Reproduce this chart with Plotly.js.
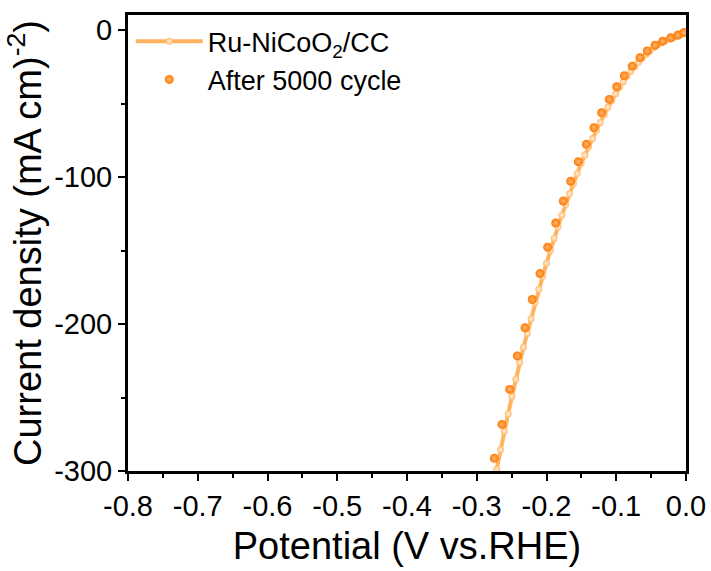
<!DOCTYPE html>
<html>
<head>
<meta charset="utf-8">
<script src="https://cdn.plot.ly/plotly-3.0.1.min.js"></script>
<style>html,body{margin:0;padding:0;background:#fff;}#chart{width:711px;height:571px;}</style>
</head>
<body>
<div id="chart"></div>
<script>
// Ru-NiCoO2/CC (initial LSV) – potential (V vs. RHE)
const freshPotential = [-0.2715, -0.2660, -0.2605, -0.2550, -0.2495, -0.2440, -0.2385, -0.2330, -0.2275, -0.2220,
  -0.2165, -0.2110, -0.2055, -0.2000, -0.1945, -0.1890, -0.1835, -0.1780, -0.1725, -0.1670,
  -0.1615, -0.1560, -0.1505, -0.1450, -0.1395, -0.1340, -0.1285, -0.1230, -0.1175, -0.1120,
  -0.1065, -0.1010, -0.0955, -0.0900, -0.0845, -0.0790, -0.0735, -0.0680, -0.0625, -0.0570,
  -0.0515, -0.0460, -0.0405, -0.0350, -0.0295, -0.0240, -0.0185, -0.0130, -0.0075, -0.0020];
// current density (mA cm-2)
const freshCurrent = [-299.0, -285.5, -272.9, -261.2, -249.3, -237.6, -226.1, -215.8, -206.4, -196.5,
  -185.4, -176.3, -167.6, -158.7, -149.8, -141.6, -133.8, -126.1, -118.5, -111.3,
  -104.4, -97.7, -90.9, -85.1, -79.4, -73.8, -68.2, -62.9, -57.8, -52.6,
  -48.0, -43.6, -39.1, -35.2, -31.1, -28.0, -24.9, -22.0, -18.9, -16.5,
  -14.1, -12.1, -10.1, -8.7, -7.4, -6.3, -5.2, -4.2, -3.2, -1.5];

// After 5000 cycles
const cycledPotential = [-0.2748, -0.2638, -0.2528, -0.2419, -0.2308, -0.2204, -0.2093, -0.1983, -0.1868, -0.1759,
  -0.1653, -0.1544, -0.1429, -0.1319, -0.1209, -0.1100, -0.0994, -0.0885, -0.0770, -0.0659,
  -0.0555, -0.0444, -0.0334, -0.0218, -0.0115, -0.0029];
const cycledCurrent = [-291.4, -268.3, -244.5, -221.7, -202.6, -183.3, -165.7, -147.8, -131.3, -116.3,
  -102.9, -89.6, -77.8, -66.5, -56.3, -47.2, -38.6, -31.1, -24.6, -18.9,
  -14.3, -10.3, -7.6, -5.3, -3.4, -1.7];

const seriesNames = ['Ru-NiCoO<sub>2</sub>/CC', 'After 5000 cycle'];
const xTickVals = [-0.8, -0.7, -0.6, -0.5, -0.4, -0.3, -0.2, -0.1, 0.0];
const xTickText = ['-0.8', '-0.7', '-0.6', '-0.5', '-0.4', '-0.3', '-0.2', '-0.1', '0.0'];
const yTickVals = [0, -100, -200, -300];
const yTickText = ['0', '-100', '-200', '-300'];

const FONT = 'Liberation Sans, Arial, sans-serif';

const traces = [
  {
    x: freshPotential, y: freshCurrent, name: seriesNames[0], legendgroup: 'a',
    type: 'scatter', mode: 'lines+markers',
    line: {color: '#FFB35F', width: 4},
    marker: {size: 7, color: '#FFBC72', gradient: {type: 'radial', color: '#FFF1DF'}}
  },
  {
    x: cycledPotential, y: cycledCurrent, name: seriesNames[1], legendgroup: 'b',
    type: 'scatter', mode: 'markers',
    marker: {size: 9, color: '#FF7800', gradient: {type: 'radial', color: '#FFB877'}}
  }
];

const axisCommon = {
  showline: true, linecolor: '#000', linewidth: 3, mirror: true,
  ticks: 'outside', ticklen: 7, tickwidth: 2, tickcolor: '#000',
  showgrid: false, zeroline: false,
  tickfont: {family: FONT, size: 29, color: '#000'}
};

const layout = {
  width: 711, height: 571,
  margin: {l: 128, r: 25, t: 15, b: 100},
  paper_bgcolor: '#fff', plot_bgcolor: '#fff',
  font: {family: FONT, color: '#000'},
  showlegend: true,
  legend: {
    x: 0.005, xanchor: 'left', y: 0.995, yanchor: 'top',
    bgcolor: 'rgba(0,0,0,0)', font: {family: FONT, size: 27, color: '#000'},
    itemwidth: 67, tracegroupgap: 17, traceorder: 'normal'
  },
  xaxis: Object.assign({}, axisCommon, {
    range: [-0.8, 0.0], tickmode: 'array', tickvals: xTickVals, ticktext: xTickText,
    minor: {dtick: 0.05, ticks: 'outside', ticklen: 4, tickwidth: 2, tickcolor: '#000'},
    title: {text: 'Potential (V vs.RHE)', font: {family: FONT, size: 38, color: '#000'}, standoff: 12}
  }),
  yaxis: Object.assign({}, axisCommon, {
    range: [-300, 10.2], tickmode: 'array', tickvals: yTickVals, ticktext: yTickText,
    minor: {dtick: 50, ticks: 'outside', ticklen: 4, tickwidth: 2, tickcolor: '#000'},
    title: {text: 'Current density (mA cm)<sup>-2</sup>)', font: {family: FONT, size: 38, color: '#000'}, standoff: 1}
  })
};

Plotly.newPlot('chart', traces, layout, {staticPlot: true, displayModeBar: false});
</script>
</body>
</html>
